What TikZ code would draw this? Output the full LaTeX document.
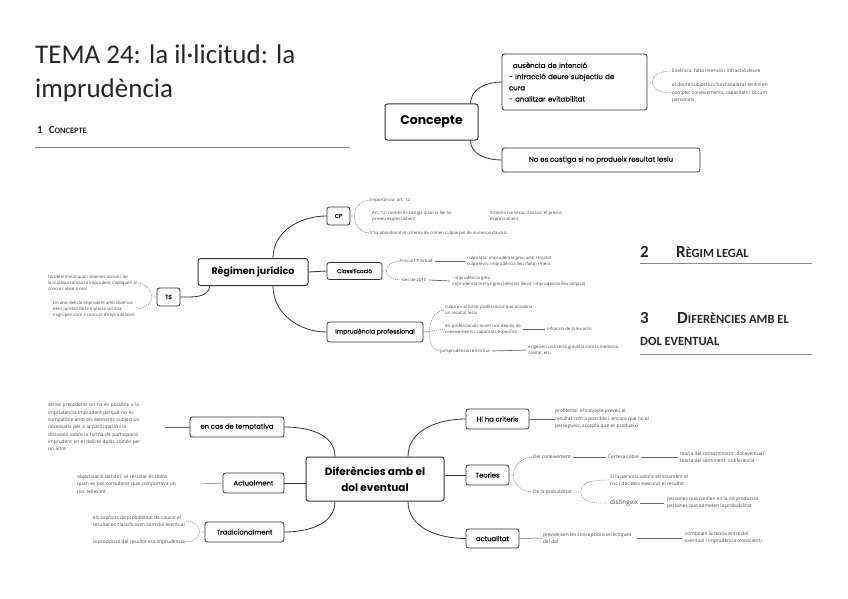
\documentclass[tikz,border=0pt]{standalone}
\usepackage{fontspec}
\setmainfont{Carlito}
\newfontfamily\popfam{Poppins}
\newfontfamily\popmed{Poppins}[FakeBold=0.2]
\newfontfamily\notefam{Open Sans}
\begin{document}
\begin{tikzpicture}[x=1pt, y=1pt,
  box/.style={draw=black!80, line width=0.8pt, rounded corners=2.5pt, fill=white, inner sep=0pt, font=\popmed\fontsize{6.8}{8}\selectfont},
  big/.style={box, line width=1pt, align=center, font=\popfam\bfseries\fontsize{9.5}{13}\selectfont},
  note/.style={inner sep=0pt, align=left, text=black!72, font=\notefam\fontsize{4.8}{7.3}\selectfont},
  tiny/.style={note, font=\notefam\fontsize{4.3}{6}\selectfont},
  branch/.style={black!80, line width=0.8pt},
  twig/.style={black!60, line width=0.5pt},
  brace/.style={black!55, line width=0.45pt, dash pattern=on 1.2pt off 0.9pt},
  rule/.style={black!45, line width=0.8pt},
  head/.style={anchor=base west, inner sep=0pt, text=black!85}]
\useasboundingbox (0,0) rectangle (848,-599);

\node[head, font=\fontsize{27}{32}\selectfont] (title) at (35,-64) {TEMA 24: la il·licitud: la};
\node[head, font=\fontsize{27}{32}\selectfont] (title2) at (35,-98) {imprudència};
\node[head, font=\bfseries\fontsize{11}{12}\selectfont] (s1) at (37,-134) {1\hspace{6pt}C{\fontsize{8.3}{10}\selectfont ONCEPTE}};
\draw[rule] (35,-147) -- (350,-147);
\node[head, font=\bfseries\fontsize{17}{20}\selectfont] (s2) at (640,-257) {\makebox[36pt][l]{2}R{\fontsize{12.5}{15}\selectfont ÈGIM LEGAL}};
\draw[rule] (640,-263) -- (812,-263);
\node[head, font=\bfseries\fontsize{17}{20}\selectfont] (s3) at (640,-323) {\makebox[37pt][l]{3}D{\fontsize{12.5}{15}\selectfont IFERÈNCIES AMB EL}};
\node[head, font=\bfseries\fontsize{12.5}{15}\selectfont] (s3b) at (640,-345) {DOL EVENTUAL};
\draw[rule] (640,-354) -- (812,-354);

% Concepte
\node[big, minimum width=93pt, minimum height=36pt, font=\popfam\bfseries\fontsize{12.5}{14}\selectfont] (concepte) at (431.5,-122) {Concepte};
\node[box, minimum width=145pt, minimum height=56pt, text width=131pt, align=left, font=\popmed\fontsize{7}{11.2}\selectfont] (cdef) at (574.5,-82) {\hspace*{4pt}ausència de intenció\\- infracció deure subjectiu de\\cura\\- analitzar evitabilitat};
\node[box, minimum width=198pt, minimum height=24pt, font=\popmed\fontsize{7}{9}\selectfont] (ccast) at (601,-160) {No es castiga si no produeix resultat lesiu};
\node[note, anchor=west] (cn1) at (672,-71) {Essència: falta intenció i infracció deure};
\node[note, anchor=west] (cn2) at (672,-93) {el deure subjectiu s'ha d'analitzar tenint en\\compte: coneixements, capacitats i circum\\personals};
\draw[branch] ([xshift=-8pt]concepte.north east) to[out=90,in=180] (cdef.west);
\draw[branch] ([xshift=-8pt]concepte.south east) to[out=-90,in=180] (ccast.west);
\draw[brace] (cdef.east) -- ++(5,0) to[out=90,in=180] (cn1.west);
\draw[brace] (cdef.east) -- ++(5,0) to[out=-90,in=180] (cn2.west);

% Regim legal
\node[big, minimum width=110pt, minimum height=27pt] (reg) at (253,-272) {Règimen jurídico};
\node[box, minimum width=23pt, minimum height=18pt, font=\popmed\fontsize{5.5}{7}\selectfont] (cp) at (338.5,-216) {CP};
\node[box, minimum width=55pt, minimum height=17pt, font=\popmed\fontsize{5.5}{7}\selectfont] (classif) at (354.5,-271) {Classificació};
\node[box, minimum width=96pt, minimum height=20pt, font=\popmed\fontsize{6.2}{8}\selectfont] (improf) at (375,-332) {Imprudència professional};
\node[box, minimum width=23pt, minimum height=18pt, font=\popmed\fontsize{6}{7}\selectfont] (ts) at (168.5,-297) {TS};
\draw[branch] ([xshift=20pt]reg.north) to[out=90,in=180] (cp.west);
\draw[branch] (reg.east) -- (classif.west);
\draw[branch] ([xshift=20pt]reg.south) to[out=-90,in=180] (improf.west);
\draw[branch] ([xshift=-43pt]reg.south) to[out=-100,in=0] (ts.east);

\node[tiny, anchor=west] (cpa) at (370,-200) {importància: art. 12};
\node[tiny, anchor=west] (cpb) at (372,-216) {Art. 12: només es castiga quan la llei ho\\preveu expressament};
\node[tiny, anchor=west] (cpc) at (490,-216) {Sistema numerus clausus: el previst\\expressament};
\node[tiny, anchor=west] (cpd) at (370,-233) {S'ha abandonat el sistema de crimen culpae pel de numerus clausus};
\draw[brace] (cp.east) -- ++(4,0) to[out=90,in=180] (cpa.west);
\draw[brace] (cp.east) -- ++(4,0) to[out=-90,in=180] (cpd.west);

\node[tiny, anchor=west] (cla) at (400,-261) {Fins al CP actual};
\node[tiny, anchor=west] (clc) at (467,-261) {culpa lata: imprudència greu amb resultat\\culpa levis: imprudència lleu (falta) i mera};
\node[tiny, anchor=west] (clb) at (402,-280) {des de 2015};
\node[tiny, anchor=west] (cld) at (452,-281) {- imprudència greu\\imprudència menys greu (delictes lleus) i imprudència lleu (atípica)};
\draw[brace] (classif.east) -- ++(4,0) to[out=90,in=180] (cla.west);
\draw[brace] (classif.east) -- ++(4,0) to[out=-90,in=180] (clb.west);
\draw[twig, line width=0.7pt] ([xshift=2pt]cla.east) -- ([xshift=-2pt]clc.west);
\draw[twig, line width=0.7pt] ([xshift=2pt]clb.east) -- ([xshift=-2pt]cld.west);

\node[tiny, anchor=west] (ipa) at (445,-310) {culpa en activitat professional que ocasiona\\un resultat lesiu};
\node[tiny, anchor=west] (ipb) at (445,-329) {els professionals tenen uns deures de\\coneixements i capacitats específics};
\node[tiny, anchor=west] (ipc) at (547,-329) {infracció de la lex artis};
\node[tiny, anchor=west] (ipd) at (440,-351) {jurisprudència restrictiva};
\node[tiny, anchor=west] (ipe) at (528,-350) {exigeixen una certa gravetat com la medicina,\\sanitat, etc.};
\draw[brace] (improf.east) -- ++(6,0) to[out=90,in=180] (ipa.west);
\draw[brace] (improf.east) -- (ipb.west);
\draw[brace] (improf.east) -- ++(6,0) to[out=-90,in=180] (ipd.west);
\draw[twig] ([xshift=2pt]ipb.east) -- ([xshift=-2pt]ipc.west);
\draw[twig, line width=0.7pt] ([xshift=2pt]ipd.east) -- ([xshift=-2pt]ipe.west);

\node[tiny, anchor=east] (tsa) at (137,-283) {ha determinat quan diverses accions de\\la mateixa conducta imprudent s'apliquen al\\concurs ideal o real};
\node[tiny, anchor=east] (tsb) at (135,-309) {Un únic delicte imprudent amb diversos\\béns jurídics de la mateixa víctima:\\s'agrupen com a concurs d'imprudències};
\draw[brace] (ts.west) -- ++(-5,0) to[out=90,in=0] (tsa.east);
\draw[brace] (ts.west) -- ++(-5,0) to[out=-90,in=0] (tsb.east);

% Diferencies amb el dol eventual
\node[big, minimum width=138pt, minimum height=44pt, font=\popfam\bfseries\fontsize{10.5}{16}\selectfont] (dif) at (375,-479) {Diferències amb el\\dol eventual};
\node[box, minimum width=94pt, minimum height=20pt] (tempt) at (237,-427) {en cas de temptativa};
\node[box, minimum width=61pt, minimum height=20pt] (actual) at (253.5,-483) {Actualment};
\node[box, minimum width=79pt, minimum height=20pt] (trad) at (244.5,-532) {Tradicionalment};
\node[box, minimum width=63pt, minimum height=20pt] (crit) at (497.5,-419) {Hi ha criteris};
\node[box, minimum width=43pt, minimum height=20pt] (teor) at (487.5,-475) {Teories};
\node[box, minimum width=53pt, minimum height=19pt] (actu) at (492.5,-538.5) {actualitat};
\draw[branch] ([xshift=-40pt]dif.north) to[out=90,in=0] (tempt.east);
\draw[branch] (actual.east) -- (actual.east -| dif.west);
\draw[branch] ([xshift=-40pt]dif.south) to[out=-90,in=0] (trad.east);
\draw[branch] ([xshift=33pt]dif.north) to[out=90,in=180] (crit.west);
\draw[branch] (teor.west -| dif.east) -- (teor.west);
\draw[branch] ([xshift=33pt]dif.south) to[out=-90,in=180] (actu.west);

\node[note, anchor=west, text width=117pt] (ta) at (48,-427) {sense precedents on no és possible a la\\imprudència imprudent perquè no és\\compatible amb els elements subjectius\\necessaris per a la participació i la\\discussió sobre la forma de participació\\imprudent en el delicte dolós comès per\\un altre};
\node[note, anchor=west, text width=123pt] (aa) at (77,-484) {objectivació del dol: el resultat és dolós\\quan es pot considerar que comportava un\\risc rellevant};
\node[note, anchor=east] (tra) at (185,-521) {els supòsits de probabilitat de causar el\\resultat es classificaven com dol eventual};
\node[note, anchor=east] (trb) at (185,-542) {la producció del resultat era imprudència};
\draw[twig] (ta.east) -- (tempt.west);
\draw[twig] (aa.east) -- (actual.west);
\draw[brace] (trad.west) -- ++(-5,0) to[out=90,in=0] (tra.east);
\draw[brace] (trad.west) -- ++(-5,0) to[out=-90,in=0] (trb.east);

\node[note, anchor=west] (cra) at (555,-419) {problema: el subjecte preveu el\\resultat com a possible i, encara que no el\\persegueix, accepta que es produeixi};
\draw[twig] (crit.east) -- (cra.west);

\node[note, anchor=west] (tea) at (533,-457) {Del coneixement};
\node[note, anchor=west] (teb) at (608,-457) {Certesa sobre};
\node[note, anchor=west] (tec) at (680,-457) {teoria del consentiment: dol eventual\\teoria del sentiment: indiferència};
\node[note, anchor=west] (ted) at (533,-492) {De la probabilitat};
\node[note, anchor=west] (tee) at (610,-480) {Si la persona valora seriosament el\\risc i decideix executar el resultat};
\node[note, anchor=west, text=black!75, font=\notefam\fontsize{6.3}{8}\selectfont] (tef) at (610,-503) {distingeix};
\node[note, anchor=west] (teg) at (667,-503) {persones que confien en la no producció\\persones que admeten la probabilitat};
\draw[brace] (teor.east) -- ++(4,0) to[out=90,in=180] (tea.west);
\draw[brace] (teor.east) -- ++(4,0) to[out=-90,in=180] (ted.west);
\draw[twig] ([xshift=2pt]tea.east) -- ([xshift=-2pt]teb.west);
\draw[twig] ([xshift=2pt]teb.east) -- ([xshift=-2pt]tec.west);
\draw[brace] ([xshift=2pt]ted.east) -- ++(7,0) to[out=90,in=180] (tee.west);
\draw[brace] ([xshift=2pt]ted.east) -- ++(7,0) to[out=-90,in=180] (tef.west);
\draw[twig] ([xshift=2pt]tef.east) -- ([xshift=-3pt]teg.west);

\node[note, anchor=west] (aca) at (543,-538) {prevaleixen les concepcions eclèctiques\\del dol};
\node[note, anchor=west] (acb) at (685,-538) {combinen la teoria entre dol\\eventual i imprudència (conscient)};
\draw[twig] (actu.east) -- (aca.west);
\draw[twig, line width=0.8pt] ([xshift=5pt]aca.east) -- ([xshift=-3pt]acb.west);
\end{tikzpicture}
\end{document}
